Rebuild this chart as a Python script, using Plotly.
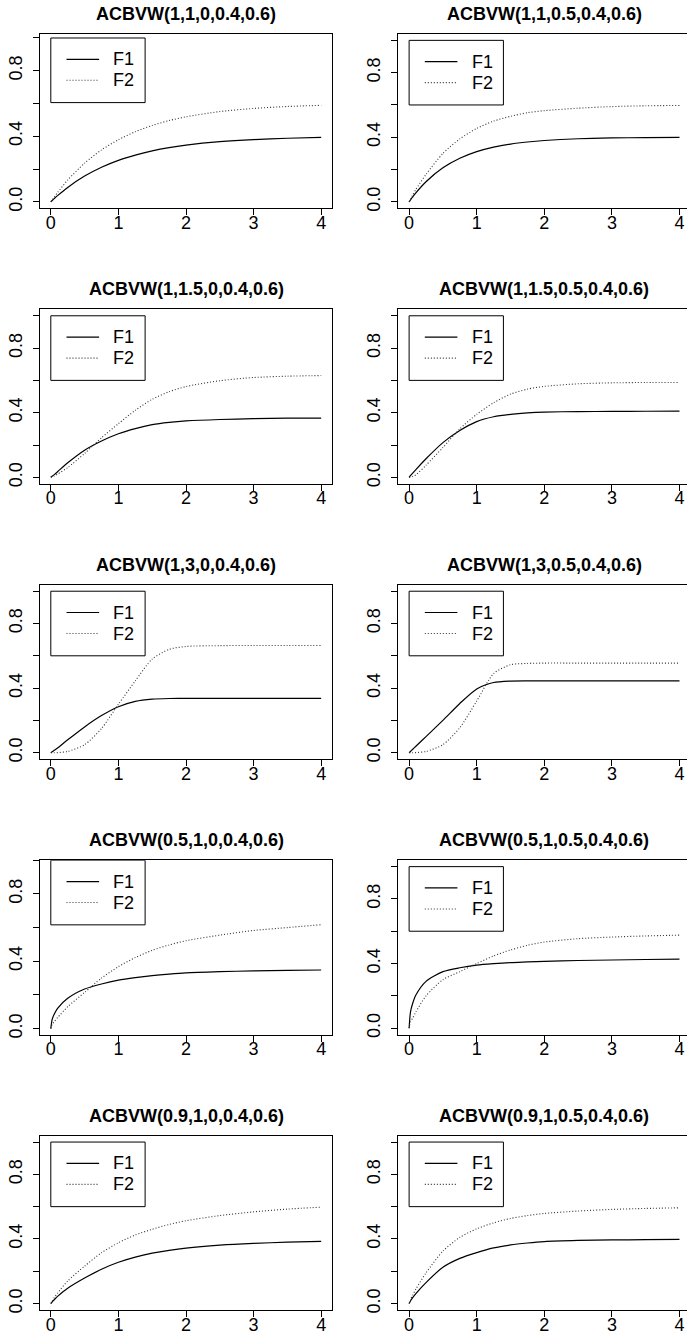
import plotly.graph_objects as go

# ---------------- data ----------------
x_grid = [0, 0.02, 0.05, 0.1, 0.25, 0.5, 0.75, 1, 1.25, 1.5, 1.75, 2, 2.5, 3, 3.5, 4]

titles = [
    "ACBVW(1,1,0,0.4,0.6)", "ACBVW(1,1,0.5,0.4,0.6)",
    "ACBVW(1,1.5,0,0.4,0.6)", "ACBVW(1,1.5,0.5,0.4,0.6)",
    "ACBVW(1,3,0,0.4,0.6)", "ACBVW(1,3,0.5,0.4,0.6)",
    "ACBVW(0.5,1,0,0.4,0.6)", "ACBVW(0.5,1,0.5,0.4,0.6)",
    "ACBVW(0.9,1,0,0.4,0.6)", "ACBVW(0.9,1,0.5,0.4,0.6)",
]

f1_p1 = [0, .008, .0195, .038, .088, .157, .211, .253, .285, .311, .331, .346, .367, .380, .388, .393]
f2_p1 = [0, .012, .029, .057, .133, .236, .317, .379, .428, .466, .496, .519, .551, .570, .582, .589]
f1_p2 = [0, .012, .029, .056, .125, .211, .270, .311, .339, .358, .371, .380, .391, .396, .398, .399]
f2_p2 = [0, .017, .040, .077, .170, .300, .390, .455, .500, .530, .552, .565, .580, .590, .595, .597]
f1_p3 = [0, .007, .017, .035, .090, .168, .225, .270, .302, .326, .340, .349, .358, .363, .366, .367]
f2_p3 = [0, .002, .008, .020, .060, .148, .245, .332, .415, .483, .530, .562, .598, .618, .626, .630]
f1_p4 = [0, .010, .024, .048, .115, .215, .290, .345, .375, .390, .399, .404, .407, .408, .409, .410]
f2_p4 = [0, .001, .005, .015, .075, .185, .300, .390, .462, .515, .546, .563, .579, .585, .587, .587]
f1_p5 = [0, .006, .015, .030, .080, .160, .230, .285, .318, .332, .336, .337, .337, .337, .337, .337]
f2_p5 = [0, 0, 0, .001, .008, .050, .150, .300, .445, .580, .640, .658, .663, .664, .664, .664]
f1_p6 = [0, .008, .020, .040, .100, .200, .305, .395, .435, .444, .445, .445, .445, .445, .445, .445]
f2_p6 = [0, 0, 0, .001, .008, .050, .155, .320, .490, .545, .553, .555, .555, .555, .555, .555]
f1_p7 = [0, .055, .085, .120, .180, .235, .265, .288, .303, .315, .324, .331, .338, .343, .346, .348]
f2_p7 = [0, .025, .040, .065, .130, .215, .300, .368, .422, .465, .497, .522, .555, .583, .600, .617]
f1_p8 = [0, .100, .150, .205, .290, .350, .374, .390, .399, .406, .410, .414, .419, .422, .425, .427]
f2_p8 = [0, .040, .060, .100, .200, .300, .350, .400, .447, .484, .513, .533, .554, .564, .571, .576]
f1_p9 = [0, .011, .024, .045, .095, .158, .213, .256, .288, .312, .330, .344, .362, .373, .380, .385]
f2_p9 = [0, .016, .036, .065, .140, .232, .315, .377, .425, .460, .490, .513, .545, .568, .585, .597]
f1_p10 = [0, .016, .035, .062, .130, .225, .280, .316, .345, .363, .375, .384, .391, .394, .396, .398]
f2_p10 = [0, .023, .050, .090, .190, .325, .410, .463, .500, .527, .545, .558, .573, .583, .589, .593]

F1 = [f1_p1, f1_p2, f1_p3, f1_p4, f1_p5, f1_p6, f1_p7, f1_p8, f1_p9, f1_p10]
F2 = [f2_p1, f2_p2, f2_p3, f2_p4, f2_p5, f2_p6, f2_p7, f2_p8, f2_p9, f2_p10]

x_ticks = [0, 1, 2, 3, 4]
y_ticks = [0, 0.2, 0.4, 0.6, 0.8, 1.0]
y_ticktext = ["0.0", "", "0.4", "", "0.8", ""]
legend_labels = ["F1", "F2"]

# ---------------- layout geometry (pixels) ----------------
W, H = 687, 1337
BOX_W, BOX_H = 292, 175
col_left = [40, 398.3]
row_top0, row_pitch = 34, 276.25
XR = 4.32  # data width of the box (-0.16 .. 4.16)
y_ranges = [[-0.04, 1.025], [-0.04, 1.04], [-0.04, 1.04], [-0.04, 1.04], [-0.04, 1.04],
            [-0.04, 1.04], [-0.036, 1.0005], [-0.04, 1.04], [-0.04, 1.04], [-0.04, 1.04]]

FONT = "Liberation Sans, Arial, Helvetica, sans-serif"
TICK_SIZE = 18
fig = go.Figure()
layout = dict(
    width=W, height=H, margin=dict(l=0, r=0, t=0, b=0),
    paper_bgcolor="white", plot_bgcolor="white", showlegend=False,
    font=dict(family=FONT, size=TICK_SIZE, color="black"),
)
shapes, annotations = [], []

for i in range(10):
    r, c = divmod(i, 2)
    left = col_left[c]
    top = row_top0 + r * row_pitch
    bottom = top + BOX_H
    right = min(left + BOX_W, W)
    xr1 = -0.16 + (right - left) / BOX_W * XR
    xa = "xaxis" if i == 0 else f"xaxis{i+1}"
    ya = "yaxis" if i == 0 else f"yaxis{i+1}"
    xs = "x" if i == 0 else f"x{i+1}"
    ys = "y" if i == 0 else f"y{i+1}"
    layout[xa] = dict(
        domain=[left / W, right / W], range=[-0.16, xr1], anchor=ys,
        showline=True, linecolor="black", linewidth=1, mirror=True,
        ticks="outside", ticklen=6, tickcolor="black", tickwidth=1,
        tickvals=x_ticks, ticktext=[str(v) for v in x_ticks],
        ticklabeloverflow="allow", ticklabelstandoff=-8,
        showgrid=False, zeroline=False, tickfont=dict(size=TICK_SIZE),
    )
    layout[ya] = dict(
        domain=[1 - bottom / H, 1 - top / H], range=y_ranges[i], anchor=xs,
        showline=True, linecolor="black", linewidth=1, mirror=(c == 0),
        ticks="outside", ticklen=6, tickcolor="black", tickwidth=1,
        tickvals=y_ticks, ticktext=y_ticktext, tickangle=-90,
        ticklabelstandoff=4,
        showgrid=False, zeroline=False, tickfont=dict(size=TICK_SIZE),
    )
    fig.add_trace(go.Scatter(x=x_grid, y=F1[i], mode="lines", xaxis=xs, yaxis=ys,
                             line=dict(color="black", width=1.2, shape="spline", smoothing=0.7)))
    fig.add_trace(go.Scatter(x=x_grid, y=F2[i], mode="lines", xaxis=xs, yaxis=ys,
                             line=dict(color="#333", width=1.1, dash="1px,2px", shape="spline", smoothing=0.7)))
    # title
    annotations.append(dict(
        text=f"<b>{titles[i]}</b>", xref="paper", yref="paper",
        x=(left + BOX_W / 2) / W, y=1 - top / H, yshift=20,
        xanchor="center", yanchor="middle", showarrow=False,
        font=dict(size=18, family=FONT, color="black")))
    # legend box anchored at (0, 1) in data coordinates
    shapes.append(dict(type="rect", xref=xs, yref=ys, xsizemode="pixel", ysizemode="pixel",
                       xanchor=0, yanchor=1, x0=0, x1=94.3, y0=-64.6, y1=0,
                       line=dict(color="black", width=1)))
    for k, (lab, yoff) in enumerate(zip(legend_labels, [-21.3, -42.3])):
        shapes.append(dict(type="line", xref=xs, yref=ys, xsizemode="pixel", ysizemode="pixel",
                           xanchor=0, yanchor=1, x0=15.7, x1=48.3, y0=yoff, y1=yoff,
                           line=dict(color="black" if k == 0 else "#333", width=1.2 if k == 0 else 1.1,
                                     dash="solid" if k == 0 else "1px,2px")))
        annotations.append(dict(text=lab, xref=xs, yref=ys, x=0, y=1, xshift=60.5, yshift=yoff,
                                xanchor="left", yanchor="middle", showarrow=False,
                                font=dict(size=TICK_SIZE, family=FONT, color="black")))

layout["shapes"] = shapes
layout["annotations"] = annotations
fig.update_layout(**layout)
fig.write_html("out.html", config={"displayModeBar": False},
               post_script="document.body.style.margin='0px';document.body.style.overflow='hidden';")
